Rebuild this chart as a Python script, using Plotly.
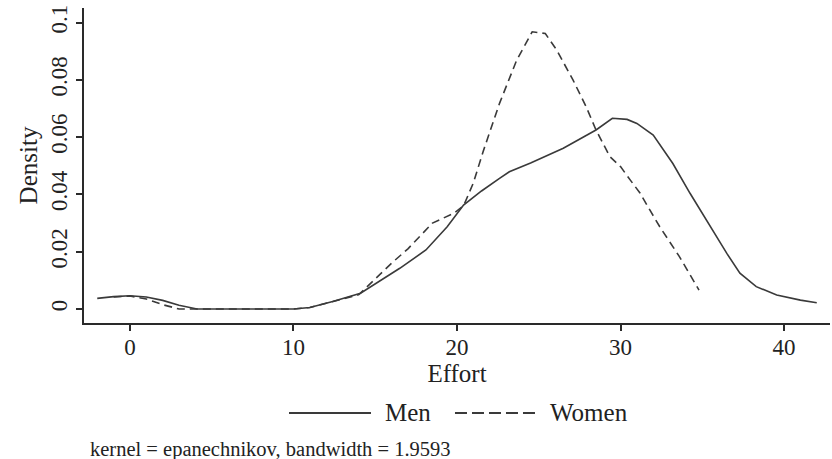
import plotly.graph_objects as go

# Men kernel density (effort, density)
men_x = [-2.0, -1.0, 0.0, 1.0, 2.0, 3.0, 4.1, 6.0, 8.0, 10.0, 11.0, 12.4, 14.1, 15.1, 16.5,
         18.1, 19.4, 20.4, 21.5, 22.6, 23.2, 24.5, 26.5, 28.5, 29.5, 30.4, 31.0, 32.0,
         33.2, 34.25, 35.5, 36.5, 37.3, 38.3, 39.55, 41.0, 42.0]
men_y = [0.0037, 0.0043, 0.0046, 0.0042, 0.0030, 0.0013, 0.0, 0.0, 0.0, 0.0, 0.0005, 0.0026,
         0.0055, 0.0090, 0.0142, 0.0206, 0.0287, 0.0363, 0.0412, 0.0456, 0.0479, 0.0510,
         0.0561, 0.0625, 0.0666, 0.0662, 0.0648, 0.0607, 0.0508, 0.0404, 0.0287, 0.0194,
         0.0125, 0.0078, 0.0049, 0.0031, 0.0022]

# Women kernel density
women_x = [-1.0, 0.0, 1.0, 2.0, 3.0, 5.0, 8.0, 10.0, 11.0, 12.0, 13.0, 14.0, 15.0, 16.0,
           17.0, 18.0, 18.5, 19.8, 20.4, 21.0, 21.6, 22.6, 23.65, 24.6, 25.4, 26.1, 27.1,
           27.9, 28.5, 29.35, 30.0, 30.6, 31.2, 31.8, 32.4, 33.6, 34.8]
women_y = [0.0042, 0.0045, 0.0035, 0.0015, 0.0, 0.0, 0.0, 0.0, 0.0005, 0.0020, 0.0035,
           0.0050, 0.0105, 0.0160, 0.0210, 0.0270, 0.0300, 0.0334, 0.0360, 0.0440, 0.0550,
           0.0718, 0.0869, 0.0968, 0.0962, 0.0904, 0.0799, 0.0706, 0.0625, 0.0532, 0.0497,
           0.0450, 0.0404, 0.0345, 0.0287, 0.0183, 0.0066]

x_ticks = [0, 10, 20, 30, 40]
y_ticks = [0, 0.02, 0.04, 0.06, 0.08, 0.1]
y_tick_text = ["0", "0.02", "0.04", "0.06", "0.08", "0.1"]
series_names = ["Men", "Women"]
caption = "kernel = epanechnikov, bandwidth = 1.9593"

FONT = "Liberation Serif"
LINE = "#3a3a3a"
TXT = "#222"

fig = go.Figure()
fig.add_trace(go.Scatter(x=men_x, y=men_y, mode="lines", name=series_names[0],
                         line=dict(color=LINE, width=1.6)))
fig.add_trace(go.Scatter(x=women_x, y=women_y, mode="lines", name=series_names[1],
                         line=dict(color=LINE, width=1.6, dash="8px,5px")))

axis_common = dict(showgrid=False, zeroline=False, showline=True, linecolor="#2a2a2a",
                   linewidth=2, ticks="outside", ticklen=6, tickwidth=2, tickcolor="#2a2a2a",
                   tickfont=dict(family=FONT, size=23, color=TXT))

fig.update_xaxes(range=[-2.81, 42.81], tickvals=x_ticks, ticktext=[str(v) for v in x_ticks],
                 ticklabelstandoff=-4,
                 title=dict(text="Effort", font=dict(family=FONT, size=25, color=TXT), standoff=0),
                 **axis_common)
fig.update_yaxes(range=[-0.0049, 0.1051], tickvals=y_ticks, ticktext=y_tick_text, tickangle=-90,
                 title=dict(text="Density", font=dict(family=FONT, size=25, color=TXT), standoff=2),
                 **axis_common)

# Manual legend below the plot
ly = -0.2857
fig.add_shape(type="line", xref="paper", yref="paper", x0=0.2748, x1=0.3847, y0=ly, y1=ly,
              line=dict(color=LINE, width=2))
fig.add_annotation(xref="paper", yref="paper", x=0.4008, y=ly, xanchor="left", yanchor="middle",
                   text=series_names[0], showarrow=False, font=dict(family=FONT, size=25, color=TXT))
fig.add_shape(type="line", xref="paper", yref="paper", x0=0.4973, x1=0.6072, y0=ly, y1=ly,
              line=dict(color=LINE, width=2, dash="12px,5px"))
fig.add_annotation(xref="paper", yref="paper", x=0.622, y=ly, xanchor="left", yanchor="middle",
                   text=series_names[1], showarrow=False, font=dict(family=FONT, size=25, color=TXT))
fig.add_annotation(xref="paper", yref="paper", x=0.005, y=-0.40, xanchor="left", yanchor="middle",
                   text=caption, showarrow=False, font=dict(family=FONT, size=20.5, color=TXT))

fig.update_layout(width=832, height=459, margin=dict(l=84, r=2, t=8, b=136),
                  paper_bgcolor="white", plot_bgcolor="white", showlegend=False)

fig.write_html("out.html")
